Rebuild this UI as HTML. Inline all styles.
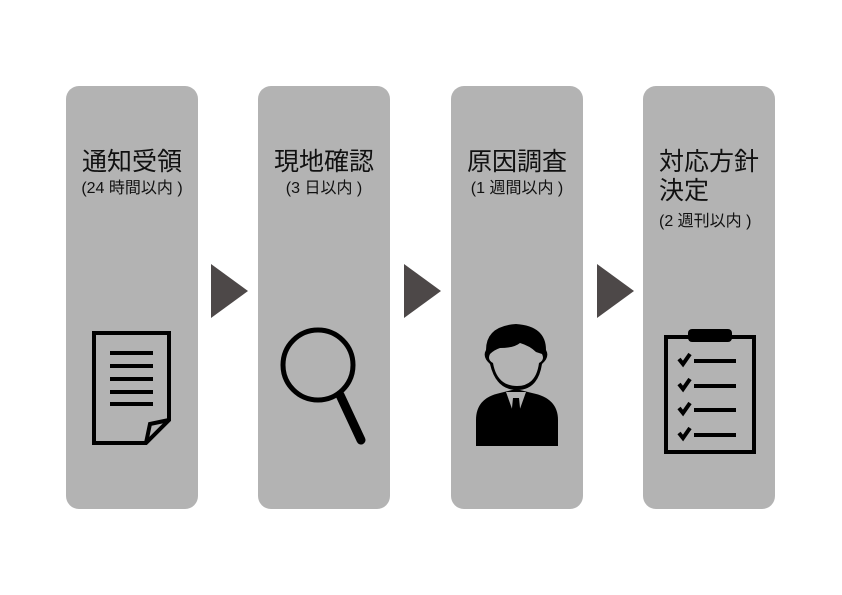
<!DOCTYPE html>
<html><head><meta charset="utf-8"><style>
body{margin:0;width:842px;height:595px;background:#fff;position:relative;overflow:hidden;font-family:"Liberation Sans","Noto Sans CJK JP",sans-serif;color:#111}
.p{position:absolute;top:86px;width:132px;height:423px;background:#b3b3b3;border-radius:13px}
.t{position:absolute;top:148px;width:132px;text-align:center;font-size:25px;line-height:29px}
.s{position:absolute;top:179px;width:132px;text-align:center;font-size:16px;line-height:20px}
.a{position:absolute;top:264px;width:0;height:0;border-top:27px solid transparent;border-bottom:27px solid transparent;border-left:37px solid #4d4848}
svg{position:absolute;left:0;top:0}
</style></head><body>
<div class="p" style="left:66px"></div>
<div class="p" style="left:258px"></div>
<div class="p" style="left:451px"></div>
<div class="p" style="left:643px"></div>
<div class="t" style="left:66px">通知受領</div><div class="s" style="left:66px">(24 時間以内 )</div>
<div class="t" style="left:258px">現地確認</div><div class="s" style="left:258px">(3 日以内 )</div>
<div class="t" style="left:451px">原因調査</div><div class="s" style="left:451px">(1 週間以内 )</div>
<div class="t" style="left:659px;text-align:left;width:120px">対応方針<br>決定</div>
<div class="s" style="left:659px;top:212px;text-align:left;width:120px">(2 週刊以内 )</div>
<div class="a" style="left:211px"></div>
<div class="a" style="left:404px"></div>
<div class="a" style="left:597px"></div>
<svg width="842" height="595">
<g fill="none" stroke="#000" stroke-width="4">
<path d="M94 333 H169 V420 L146 443 H94 Z"/>
<path d="M169 420 L150 424 L146 443"/>
</g>
<g stroke="#000" stroke-width="4">
<line x1="110" y1="353" x2="153" y2="353"/><line x1="110" y1="366" x2="153" y2="366"/>
<line x1="110" y1="379" x2="153" y2="379"/><line x1="110" y1="392" x2="153" y2="392"/><line x1="110" y1="404" x2="153" y2="404"/>
</g>
<circle cx="318" cy="365" r="35" fill="none" stroke="#000" stroke-width="5"/>
<line x1="340" y1="395" x2="361" y2="440" stroke="#000" stroke-width="9" stroke-linecap="round"/>
<path d="M476 446 V420 Q476 398 500 393 L516 389 L532 393 Q558 398 558 420 V446 Z" fill="#000"/>
<path d="M506 392 L516 420 L526 392 Z" fill="#b3b3b3"/>
<path d="M513 398 L519 398 L521 418 L516 424 L511 418 Z" fill="#000"/>
<path d="M486 350 Q482 357 490 364 Q496 390 517 390 Q538 390 542 364 Q550 357 546 350 Q546 326 516 324 Q486 326 486 350 Z" fill="#000"/>
<path d="M490 354 Q487 360 493 363 Q497 386 517 386 Q536 386 539 363 Q545 360 542 354 L536 352 Q530 346 520 343 Q514 348 500 348 Q494 350 490 354 Z" fill="#b3b3b3"/>
<rect x="666" y="337" width="88" height="115" fill="none" stroke="#000" stroke-width="4"/>
<rect x="688" y="329" width="44" height="13" rx="4" fill="#000"/>
<g stroke="#000" stroke-width="4" fill="none">
<path d="M679 359 l4 5 l7 -10"/><line x1="694" y1="361" x2="736" y2="361"/>
<path d="M679 384 l4 5 l7 -10"/><line x1="694" y1="386" x2="736" y2="386"/>
<path d="M679 408 l4 5 l7 -10"/><line x1="694" y1="410" x2="736" y2="410"/>
<path d="M679 433 l4 5 l7 -10"/><line x1="694" y1="435" x2="736" y2="435"/>
</g>
</svg>
</body></html>
